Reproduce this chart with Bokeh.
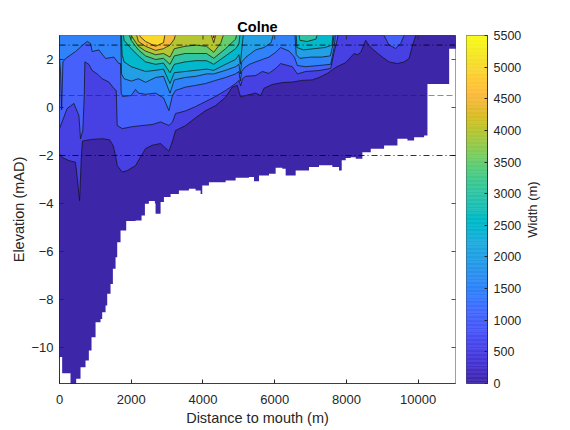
import math
import numpy as np
from bokeh.plotting import figure
from bokeh.models import Span, FixedTicker, Range1d
from bokeh.layouts import row, column
from bokeh.core.properties import value
from bokeh.embed import file_html
from bokeh.resources import INLINE

# ---------------- texts / axes ----------------
title_text = "Colne"
x_label = "Distance to mouth (m)"
y_label = "Elevation (mAD)"
cbar_label = "Width (m)"
x_ticks = [0, 2000, 4000, 6000, 8000, 10000]
y_ticks = [-10, -8, -6, -4, -2, 0, 2]
cbar_ticks = [0, 500, 1000, 1500, 2000, 2500, 3000, 3500, 4000, 4500, 5000, 5500]
x_limits = [0, 11040]
y_limits = [-11.5, 3.0]
width_limits = [0, 5500]

# reference water levels (mAD)
ref_dashdot = [2.6, -2.0]
ref_dashed = [0.5]

# ---------------- contour lines of channel width (distance m, elevation mAD) ----------------
# 3.4 = level not reached below the top of the plotted range
lvl500_x = [0, 100, 260, 446, 500, 560, 610, 640, 700, 900, 1200, 1400, 1500, 1560, 1610, 1750, 1890, 2120, 2260, 2400, 2590, 2818, 3050, 3150, 3236, 3515, 3794, 4073, 4352, 4630, 4816, 4956, 5049, 5188, 5468, 5607, 5700, 5933, 6212, 6491, 6770, 7049, 7235, 7468, 7700, 7979, 8212, 8305, 8398, 8537, 8630, 8770, 9002, 9188, 9420, 9607, 9746, 9839, 9932, 10000, 11100]
lvl500_z = [-1.93, -2.1, -2.21, -2.28, -3.0, -3.88, -2.0, -1.4, -1.38, -1.33, -1.3, -1.35, -1.6, -2.0, -2.42, -2.69, -2.63, -2.42, -2.06, -1.71, -1.57, -1.5, -1.82, -1.4, -0.96, -0.75, -0.43, -0.13, 0.08, 0.43, 0.85, 0.92, 0.43, 0.5, 0.6, 0.5, 0.8, 0.96, 1.04, 1.06, 1.13, 1.15, 1.25, 1.42, 1.67, 1.87, 2.25, 2.2, 2.3, 2.8, 2.58, 2.38, 2.1, 1.9, 1.83, 1.9, 2.04, 2.58, 3.0, 3.4, 3.4]

lvl1000_x = [0, 214, 400, 540, 586, 650, 690, 707, 818, 912, 1050, 1190, 1377, 1516, 1582, 1609, 1749, 2027, 2306, 2585, 2818, 3050, 3150, 3236, 3500, 3794, 4073, 4352, 4630, 4770, 4909, 5002, 5050, 5100, 5188, 5468, 5654, 5840, 6026, 6165, 6491, 6631, 6863, 7235, 7561, 7654, 7747, 7800, 9000, 9048, 9188, 9374, 9513, 9607, 9650, 11100]
lvl1000_z = [-0.88, -0.04, 0.17, -0.33, -1.3, -0.96, 0.5, 1.9, 1.8, 1.54, 1.4, 1.2, 1.06, 0.79, 0.71, -0.75, -0.88, -0.8, -0.75, -0.71, -0.6, -0.75, -0.6, -0.25, -0.15, 0.04, 0.25, 0.46, 0.71, 0.85, 1.0, 1.13, 0.9, 1.2, 1.3, 1.33, 1.5, 1.42, 1.63, 1.83, 1.7, 1.4, 1.5, 1.54, 1.63, 2.29, 2.85, 3.4, 3.4, 3.0, 2.6, 2.46, 2.67, 3.0, 3.4, 3.4]

lvl1500_x = [0, 30, 60, 95, 167, 446, 632, 772, 865, 912, 1098, 1284, 1516, 1656, 1700, 1720, 1760, 2000, 2120, 2200, 2400, 2678, 2900, 3050, 3150, 3236, 3515, 3794, 4073, 4352, 4630, 4909, 5002, 5040, 5080, 5150, 5300, 5468, 5654, 5840, 6026, 6165, 6400, 6550, 6631, 6863, 7235, 7561, 7654, 7720, 11100]
lvl1500_z = [2.0, 1.5, -0.1, 1.9, 2.04, 2.33, 2.58, 2.75, 2.67, 2.33, 2.4, 2.04, 2.1, 1.83, 1.83, 0.6, 0.46, 0.5, 0.75, 0.6, 0.55, 0.6, 0.4, -0.13, 0.5, 0.71, 0.85, 0.92, 1.0, 1.13, 1.25, 1.4, 1.5, 1.1, 1.5, 1.65, 1.8, 1.9, 2.0, 2.1, 2.3, 2.5, 2.35, 2.1, 1.75, 1.7, 1.75, 1.8, 2.5, 3.4, 3.4]

lvl2000_x = [0, 1700, 1730, 1800, 2000, 2200, 2400, 2678, 2900, 3080, 3200, 3500, 3800, 4100, 4300, 4630, 4909, 5002, 5040, 5080, 5200, 5468, 5700, 5900, 6026, 6550, 6600, 6700, 7000, 7300, 7550, 7620, 7680, 11100]
lvl2000_z = [3.4, 3.4, 1.4, 1.2, 1.1, 1.2, 1.05, 1.25, 1.3, 0.6, 1.15, 1.25, 1.3, 1.4, 1.4, 1.55, 1.7, 1.8, 1.4, 1.9, 2.1, 2.4, 2.5, 2.7, 3.4, 3.4, 2.2, 2.05, 2.1, 2.1, 2.15, 2.6, 3.4, 3.4]

lvl2500_x = [0, 1720, 1745, 1800, 2000, 2200, 2400, 2678, 2900, 3080, 3200, 3500, 3800, 4100, 4300, 4630, 4909, 5002, 5040, 5080, 5150, 6580, 6620, 6800, 7100, 7400, 7600, 7640, 11100]
lvl2500_z = [3.4, 3.4, 2.2, 1.9, 1.7, 1.6, 1.5, 1.55, 1.6, 1.0, 1.45, 1.5, 1.55, 1.6, 1.55, 1.8, 2.0, 2.2, 1.8, 2.4, 3.4, 3.4, 2.5, 2.4, 2.45, 2.5, 2.6, 3.4, 3.4]

lvl3000_x = [0, 1750, 1800, 2000, 2200, 2400, 2678, 2900, 3080, 3200, 3500, 3800, 4100, 4300, 4630, 4909, 5002, 5060, 6650, 6700, 6900, 7150, 7250, 11100]
lvl3000_z = [3.4, 3.4, 2.8, 2.45, 2.15, 1.9, 1.8, 1.85, 1.45, 1.8, 1.9, 1.95, 1.95, 1.8, 2.15, 2.45, 2.65, 3.4, 3.4, 2.8, 2.75, 2.85, 3.4, 3.4]

lvl3500_x = [0, 1850, 2000, 2200, 2400, 2678, 2900, 3080, 3200, 3500, 3800, 4100, 4300, 4630, 4909, 5000, 11100]
lvl3500_z = [3.4, 3.4, 2.8, 2.4, 2.15, 2.0, 2.05, 1.8, 2.15, 2.25, 2.25, 2.25, 2.05, 2.45, 2.85, 3.4, 3.4]

lvl4000_x = [0, 1950, 2000, 2200, 2400, 2678, 2900, 3080, 3200, 3500, 3800, 4100, 4300, 4500, 4650, 11100]
lvl4000_z = [3.4, 3.4, 3.0, 2.55, 2.35, 2.2, 2.25, 2.1, 2.45, 2.55, 2.6, 2.55, 2.3, 2.7, 3.4, 3.4]

lvl4500_x = [0, 2080, 2200, 2400, 2678, 2900, 3080, 3200, 3300, 4150, 4300, 4420, 11100]
lvl4500_z = [3.4, 3.4, 2.75, 2.55, 2.38, 2.45, 2.6, 2.85, 3.4, 3.4, 2.7, 3.4, 3.4]

lvl5000_x = [0, 2150, 2250, 2400, 2678, 2900, 2980, 4240, 4300, 4360, 11100]
lvl5000_z = [3.4, 3.4, 2.95, 2.75, 2.55, 2.7, 3.4, 3.4, 2.9, 3.4, 3.4]

contour_levels = [500, 1000, 1500, 2000, 2500, 3000, 3500, 4000, 4500, 5000]
level_lines = [
    (lvl500_x, lvl500_z), (lvl1000_x, lvl1000_z), (lvl1500_x, lvl1500_z),
    (lvl2000_x, lvl2000_z), (lvl2500_x, lvl2500_z), (lvl3000_x, lvl3000_z),
    (lvl3500_x, lvl3500_z), (lvl4000_x, lvl4000_z), (lvl4500_x, lvl4500_z),
    (lvl5000_x, lvl5000_z),
]

# ---------------- channel bed (lowest elevation with data), step per station ----------------
bed_x = [0, 74, 307, 465, 586, 725, 818, 893, 1005, 1144, 1190, 1284, 1330, 1423, 1488, 1563, 1609, 1702, 1860, 2120, 2288, 2381, 2492, 2660, 2678, 2818, 2911, 3097, 3329, 3608, 3794, 3934, 3980, 4166, 4631, 4910, 5282, 5422, 5561, 5840, 6026, 6212, 6305, 6445, 6584, 6956, 7235, 7607, 7793, 7868, 7979, 8119, 8258, 8444, 8537, 8677, 9049, 9421, 9700, 9886, 10165, 10258, 10863]
bed_z = [-10.4, -11.07, -11.6, -11.3, -10.82, -10.54, -10.13, -9.57, -8.95, -8.81, -8.53, -8.25, -7.76, -7.35, -6.72, -6.24, -5.61, -5.12, -4.73, -4.71, -4.5, -4.01, -3.9, -4.0, -4.43, -3.94, -3.73, -3.6, -3.46, -3.39, -3.46, -3.6, -3.25, -3.11, -3.04, -2.93, -2.9, -3.07, -2.83, -2.76, -2.51, -2.55, -2.83, -2.83, -2.62, -2.48, -2.41, -2.48, -2.62, -2.2, -2.1, -2.07, -2.14, -1.86, -1.86, -1.72, -1.58, -1.3, -1.38, -1.24, -1.17, 0.98, 2.45]

# ---------------- parula colormap ----------------
PARULA64 = [
    (0.2422, 0.1504, 0.6603), (0.2504, 0.1650, 0.7076), (0.2578, 0.1818, 0.7511), (0.2647, 0.1978, 0.7952),
    (0.2706, 0.2147, 0.8364), (0.2751, 0.2342, 0.8710), (0.2783, 0.2559, 0.8991), (0.2803, 0.2782, 0.9221),
    (0.2813, 0.3006, 0.9414), (0.2810, 0.3228, 0.9579), (0.2795, 0.3447, 0.9717), (0.2760, 0.3667, 0.9829),
    (0.2699, 0.3892, 0.9906), (0.2602, 0.4123, 0.9952), (0.2440, 0.4358, 0.9988), (0.2206, 0.4603, 0.9973),
    (0.1963, 0.4847, 0.9892), (0.1834, 0.5074, 0.9798), (0.1786, 0.5289, 0.9682), (0.1764, 0.5499, 0.9520),
    (0.1687, 0.5703, 0.9359), (0.1540, 0.5902, 0.9218), (0.1460, 0.6091, 0.9079), (0.1380, 0.6276, 0.8973),
    (0.1248, 0.6459, 0.8883), (0.1113, 0.6635, 0.8763), (0.0952, 0.6798, 0.8598), (0.0689, 0.6948, 0.8394),
    (0.0297, 0.7082, 0.8163), (0.0036, 0.7203, 0.7917), (0.0067, 0.7312, 0.7660), (0.0433, 0.7411, 0.7394),
    (0.0964, 0.7500, 0.7120), (0.1408, 0.7584, 0.6842), (0.1717, 0.7670, 0.6554), (0.1938, 0.7758, 0.6251),
    (0.2161, 0.7843, 0.5923), (0.2470, 0.7918, 0.5567), (0.2906, 0.7973, 0.5188), (0.3406, 0.8008, 0.4789),
    (0.3909, 0.8029, 0.4354), (0.4456, 0.8024, 0.3909), (0.5044, 0.7993, 0.3480), (0.5616, 0.7942, 0.3045),
    (0.6174, 0.7876, 0.2612), (0.6720, 0.7793, 0.2227), (0.7242, 0.7698, 0.1910), (0.7738, 0.7598, 0.1646),
    (0.8203, 0.7498, 0.1535), (0.8634, 0.7406, 0.1596), (0.9035, 0.7330, 0.1774), (0.9393, 0.7288, 0.2100),
    (0.9728, 0.7298, 0.2394), (0.9956, 0.7434, 0.2371), (0.9970, 0.7659, 0.2199), (0.9952, 0.7893, 0.2028),
    (0.9892, 0.8136, 0.1885), (0.9786, 0.8386, 0.1766), (0.9676, 0.8639, 0.1643), (0.9610, 0.8890, 0.1537),
    (0.9597, 0.9135, 0.1423), (0.9628, 0.9373, 0.1265), (0.9691, 0.9606, 0.1064), (0.9769, 0.9839, 0.0805),
]


def parula(t):
    t = min(max(t, 0.0), 1.0) * 63
    i = int(math.floor(t))
    if i >= 63:
        r, g, b = PARULA64[63]
    else:
        f = t - i
        a, c = PARULA64[i], PARULA64[i + 1]
        r, g, b = [a[j] + (c[j] - a[j]) * f for j in range(3)]
    return "#%02x%02x%02x" % (int(round(r * 255)), int(round(g * 255)), int(round(b * 255)))


span_w = width_limits[1] - width_limits[0]
band_lows = [width_limits[0]] + contour_levels
band_colors = [parula((v - width_limits[0]) / span_w) for v in band_lows]

FONT = "Liberation Sans"
AX = "#262626"
TOP_CAP = 3.6
H = 426          # height of the chart row (a thin rule sits above it)
BT, BB = 31, 47  # top / bottom borders of the chart row


def style_axis(ax, label_size="13px"):
    ax.major_tick_in = 4
    ax.major_tick_out = 0
    ax.minor_tick_in = 0
    ax.minor_tick_out = 0
    ax.axis_line_color = AX
    ax.axis_line_width = 0.8
    ax.major_tick_line_color = AX
    ax.major_label_text_font = FONT
    ax.major_label_text_font_size = label_size
    ax.major_label_text_color = AX
    ax.axis_label_text_font = FONT
    ax.axis_label_text_font_size = "14.5px"
    ax.axis_label_text_font_style = "normal"
    ax.axis_label_text_color = AX


# ---------------- main plot ----------------
p = figure(width=460, height=H, x_range=Range1d(*x_limits), y_range=Range1d(*y_limits),
           toolbar_location=None, output_backend="svg", title=title_text,
           min_border_left=59, min_border_right=5, min_border_top=BT, min_border_bottom=BB)
p.background_fill_color = band_colors[0]
p.border_fill_color = "white"
p.xgrid.visible = False
p.ygrid.visible = False
p.outline_line_color = AX
p.outline_line_width = 0.8

p.title.text_font = FONT
p.title.text_font_size = "14.5px"
p.title.text_font_style = "bold"
p.title.text_color = "#000000"
p.title.align = "center"
try:
    p.title.standoff = 1
except Exception:
    pass

# filled bands: region above each contour line gets the colour of that band
xs, ys, cols = [], [], []
for k, (lx, lz) in enumerate(level_lines):
    xs.append(list(lx) + [lx[-1], lx[0]])
    ys.append(list(lz) + [TOP_CAP, TOP_CAP])
    cols.append(band_colors[k + 1])
p.patches(xs=xs, ys=ys, fill_color=cols, line_color=None)

# no-data (below channel bed) region in white, stepped per station
bx, bz = [bed_x[0]], [y_limits[0] - 1]
for i in range(len(bed_x)):
    x_next = bed_x[i + 1] if i + 1 < len(bed_x) else x_limits[1] + 100
    bx += [bed_x[i], x_next]
    bz += [bed_z[i], bed_z[i]]
bx.append(x_limits[1] + 100)
bz.append(y_limits[0] - 1)
p.patch(bx, bz, fill_color="white", line_color=None)

# contour lines
p.multi_line(xs=[list(l[0]) for l in level_lines], ys=[list(l[1]) for l in level_lines],
             line_color="#111111", line_width=0.8, line_alpha=0.9)

# reference levels
for lev in ref_dashdot:
    p.add_layout(Span(location=lev, dimension="width", line_color="#000000", line_alpha=0.8,
                      line_width=1, line_dash="6 3 1 3"))
for lev in ref_dashed:
    p.add_layout(Span(location=lev, dimension="width", line_color="#0000ff", line_alpha=0.5,
                      line_width=1, line_dash="6 3"))

# box ticks on the right and top edges (half of each dash is clipped by the frame)
p.scatter(x=[x_limits[1]] * len(y_ticks), y=y_ticks, marker="dash", size=8,
          line_color=AX, line_width=0.8)
p.scatter(x=x_ticks, y=[y_limits[1]] * len(x_ticks), marker="dash", size=8, angle=math.pi / 2,
          line_color=AX, line_width=0.8)

p.xaxis.ticker = FixedTicker(ticks=x_ticks)
p.yaxis.ticker = FixedTicker(ticks=y_ticks)
p.xaxis.axis_label = x_label
p.yaxis.axis_label = y_label
style_axis(p.xaxis[0])
style_axis(p.yaxis[0])
p.xaxis.major_label_standoff = 11
p.xaxis.axis_label_standoff = 3
p.yaxis.major_label_standoff = 6
p.yaxis.axis_label_standoff = 1

# ---------------- colour bar ----------------
cb = figure(width=65, height=H, x_range=Range1d(0, 1), y_range=Range1d(*width_limits),
            toolbar_location=None, output_backend="svg",
            min_border_left=6, min_border_right=38, min_border_top=BT, min_border_bottom=BB,
            x_axis_location=None, y_axis_location="right")
edges = np.linspace(width_limits[0], width_limits[1], 257)
grad_cols = [parula(i / 255.0) for i in range(256)]
cb.quad(left=0, right=1, bottom=edges[:-1], top=edges[1:], fill_color=grad_cols,
        line_color=grad_cols, line_width=0.6)
cb.xgrid.visible = False
cb.ygrid.visible = False
cb.outline_line_color = AX
cb.outline_line_width = 0.8
cb.background_fill_color = "white"
cax = cb.yaxis[0]
cax.ticker = FixedTicker(ticks=cbar_ticks)
style_axis(cax, label_size="12.5px")
cax.major_tick_in = 3
cax.major_label_standoff = 6

# colour-bar label, reading bottom to top
lab = figure(width=45, height=H, x_range=Range1d(0, 45), y_range=Range1d(*width_limits),
             toolbar_location=None, output_backend="svg",
             min_border_left=0, min_border_right=0, min_border_top=BT, min_border_bottom=BB,
             x_axis_location=None, y_axis_location=None)
lab.xgrid.visible = False
lab.ygrid.visible = False
lab.outline_line_color = None
lab.text(x=[7], y=[sum(width_limits) / 2.0], text=[cbar_label], angle=math.pi / 2,
         text_align="center", text_baseline="middle", text_font=value(FONT),
         text_font_size="13px", text_color=AX)

# thin rule across the top of the page (a 1 px black frame, no title panel)
rule = figure(width=557, height=4, x_range=Range1d(0, 1), y_range=Range1d(0, 1),
              toolbar_location=None, output_backend="svg", title=None,
              min_border_left=0, min_border_right=0, min_border_top=3, min_border_bottom=0,
              x_axis_location=None, y_axis_location=None)
rule.title = None
rule.xgrid.visible = False
rule.ygrid.visible = False
rule.outline_line_color = None
rule.background_fill_color = "#000000"
rule.border_fill_color = "white"

layout = column(rule, row(p, cb, lab))
open("out.html", "w").write(file_html(layout, INLINE))
